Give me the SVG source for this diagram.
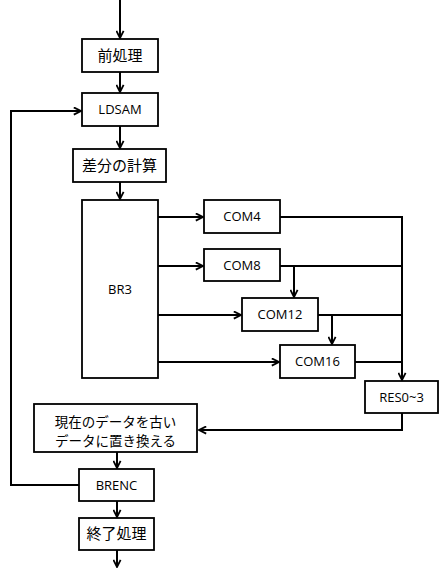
<svg xmlns="http://www.w3.org/2000/svg" width="440" height="568" viewBox="0 0 440 568">
<style>
.box{fill:#fff;stroke:#000;stroke-width:1.8}
.lat{font-family:"Open Sans","Noto Sans",sans-serif;font-size:13px;fill:#000;text-anchor:middle}
.jp{font-family:"Noto Sans CJK JP",sans-serif;font-size:15px;fill:#000;text-anchor:middle}
.jp2{font-family:"Noto Sans CJK JP",sans-serif;font-size:13.5px;fill:#000;text-anchor:middle}
.c{fill:none;stroke:#000;stroke-width:2}
</style>
<defs>
<marker id="ah" viewBox="0 0 10 10" refX="9" refY="5" markerWidth="9" markerHeight="9" markerUnits="userSpaceOnUse" orient="auto">
<path d="M1,1 L9,5 L1,9" fill="none" stroke="#000" stroke-width="2"/>
</marker>
</defs>
<rect width="440" height="568" fill="#fff"/>
<g id="connectors">
<path class="c" d="M120,0 V38" marker-end="url(#ah)"/>
<path class="c" d="M120,72 V92" marker-end="url(#ah)"/>
<path class="c" d="M120,126 V148" marker-end="url(#ah)"/>
<path class="c" d="M120,182 V199" marker-end="url(#ah)"/>
<path class="c" d="M79,485 H11 V111 H81" marker-end="url(#ah)"/>
<path class="c" d="M158,217 H203" marker-end="url(#ah)"/>
<path class="c" d="M158,266 H203" marker-end="url(#ah)"/>
<path class="c" d="M158,315 H241" marker-end="url(#ah)"/>
<path class="c" d="M158,362 H279" marker-end="url(#ah)"/>
<path class="c" d="M280,217 H402 V380" marker-end="url(#ah)"/>
<path class="c" d="M280,266 H402"/>
<path class="c" d="M294,266 V297" marker-end="url(#ah)"/>
<path class="c" d="M318,315 H402"/>
<path class="c" d="M332,315 V344" marker-end="url(#ah)"/>
<path class="c" d="M355,362 H402"/>
<path class="c" d="M402,413 V430 H199" marker-end="url(#ah)"/>
<path class="c" d="M117,452 V468" marker-end="url(#ah)"/>
<path class="c" d="M117,501 V517" marker-end="url(#ah)"/>
<path class="c" d="M117,550 V567" marker-end="url(#ah)"/>
</g>
<g id="n-preproc"><rect class="box" x="82" y="39" width="76" height="33"/><text class="jp" x="120" y="61">前処理</text></g>
<g id="n-ldsam"><rect class="box" x="82" y="93" width="76" height="33"/><text class="lat" x="120" y="114">LDSAM</text></g>
<g id="n-diff"><rect class="box" x="73" y="149" width="93" height="33"/><text class="jp" x="119.5" y="171">差分の計算</text></g>
<g id="n-br3"><rect class="box" x="82" y="200" width="76" height="178"/><text class="lat" x="120" y="294">BR3</text></g>
<g id="n-com4"><rect class="box" x="204" y="200" width="76" height="33"/><text class="lat" x="242" y="221">COM4</text></g>
<g id="n-com8"><rect class="box" x="204" y="249" width="76" height="32"/><text class="lat" x="242" y="270">COM8</text></g>
<g id="n-com12"><rect class="box" x="242" y="298" width="76" height="33"/><text class="lat" x="280" y="319">COM12</text></g>
<g id="n-com16"><rect class="box" x="280" y="345" width="75" height="33"/><text class="lat" x="317.5" y="366">COM16</text></g>
<g id="n-res"><rect class="box" x="365" y="381" width="73" height="32"/><text class="lat" x="401.5" y="402">RES0~3</text></g>
<g id="n-replace"><rect class="box" x="34" y="404" width="163" height="48"/><text class="jp2" x="115.5" y="426.5">現在のデータを古い</text><text class="jp2" x="115.5" y="446.2">データに置き換える</text></g>
<g id="n-brenc"><rect class="box" x="79" y="469" width="75" height="32"/><text class="lat" x="116.5" y="490">BRENC</text></g>
<g id="n-end"><rect class="box" x="79" y="518" width="75" height="32"/><text class="jp" x="116.5" y="539">終了処理</text></g>
</svg>
